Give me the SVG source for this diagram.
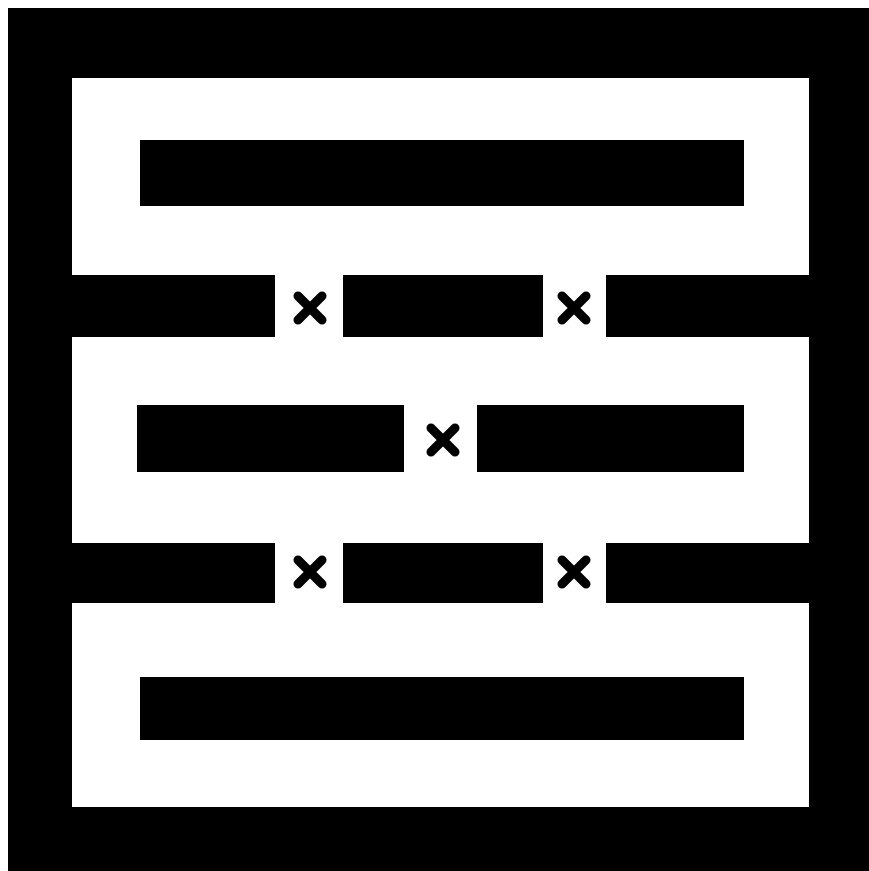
<svg xmlns="http://www.w3.org/2000/svg" width="869" height="871" viewBox="0 0 869 871">
<style>
.w{fill:#000}
.x{stroke:#000;stroke-width:9;stroke-linecap:round;fill:none}
</style>
<defs>
<path id="cross" class="x" d="M-12,-12L12,12M12,-12L-12,12"/>
</defs>
<rect width="869" height="871" fill="#fff"/>
<g id="maze">
<path class="w" fill-rule="evenodd" d="M8,8H869V871H8Z M72,78H809V807H72Z"/>
<rect class="w" x="72" y="275" width="203" height="62"/>
<rect class="w" x="343" y="275" width="200" height="62"/>
<rect class="w" x="606" y="275" width="203" height="62"/>
<rect class="w" x="72" y="543" width="203" height="60"/>
<rect class="w" x="343" y="543" width="200" height="60"/>
<rect class="w" x="606" y="543" width="203" height="60"/>
<rect class="w" x="140" y="140" width="604" height="66"/>
<rect class="w" x="137" y="405" width="267" height="67"/>
<rect class="w" x="477" y="405" width="267" height="67"/>
<rect class="w" x="140" y="677" width="604" height="63"/>
</g>
<g id="crosses">
<use href="#cross" x="310" y="308"/>
<use href="#cross" x="574" y="308"/>
<use href="#cross" x="443" y="440"/>
<use href="#cross" x="310" y="572"/>
<use href="#cross" x="574" y="572"/>
</g>
</svg>
